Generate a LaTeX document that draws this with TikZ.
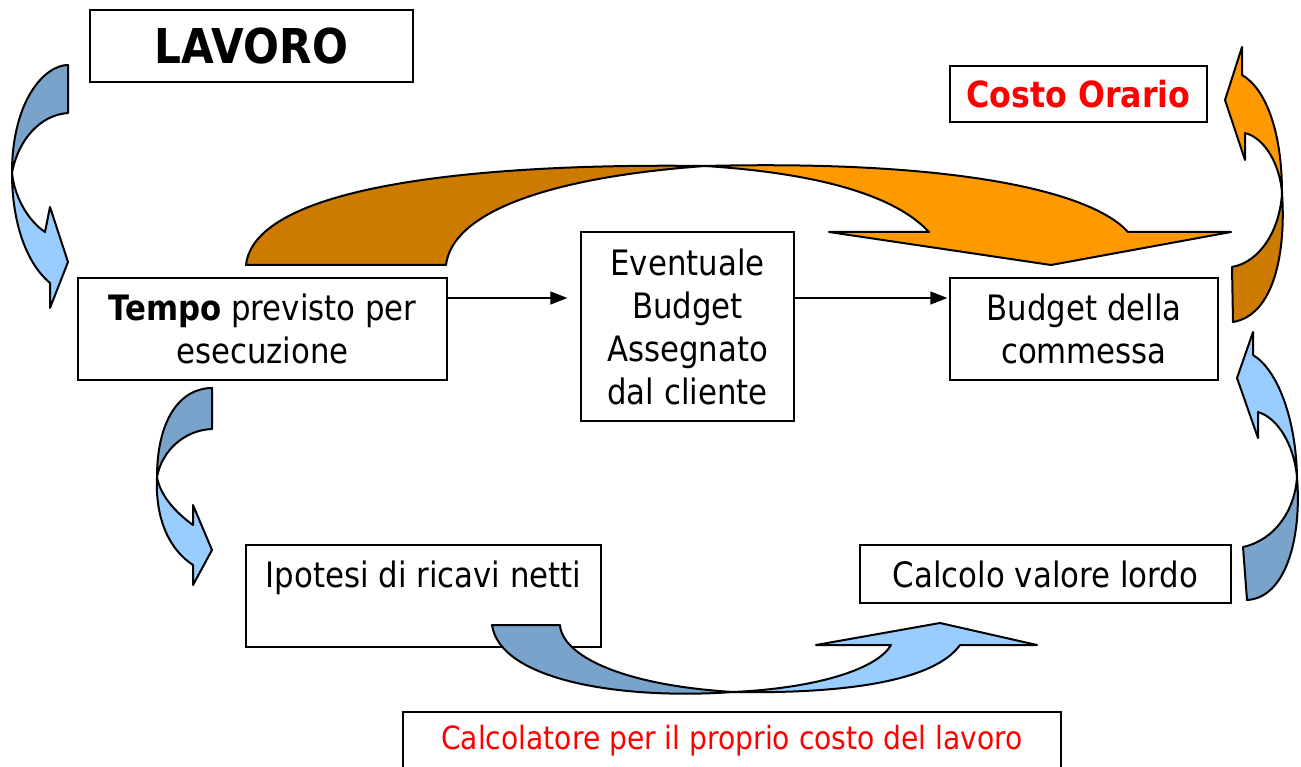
\documentclass[tikz,border=0pt]{standalone}
\usepackage{fontspec}
\setmainfont{DejaVu Sans}[FakeStretch=0.88]
\usetikzlibrary{arrows.meta}
\definecolor{bluedark}{RGB}{122,163,204}
\definecolor{bluelight}{RGB}{153,204,255}
\definecolor{orgdark}{RGB}{204,122,0}
\definecolor{orglight}{RGB}{255,153,0}
\tikzset{
  box/.style={draw=black, line width=1.3pt, fill=white, inner sep=0pt, align=center,
    font=\fontsize{35}{43}\selectfont},
  txt/.style={inner sep=0pt, align=center, font=\fontsize{35}{43}\selectfont},
  band/.style={draw=black, line width=2pt, line join=round},
  conn/.style={draw=black, line width=1.3pt, -{Triangle[length=17pt,width=13pt]}},
}
\begin{document}
\begin{tikzpicture}[x=1pt,y=-1pt]
\useasboundingbox (0,0) rectangle (1301,767);
\fill[white] (0,0) rectangle (1301,767);

% boxes
\node[box, minimum width=323pt, minimum height=72pt, font=\fontsize{48}{56}\selectfont\bfseries] (lavoro) at (251.5,46) {LAVORO};
\node[box, minimum width=257pt, minimum height=56pt, text=red, font=\fontsize{36}{43}\selectfont\bfseries] (costo) at (1078.5,94) {Costo Orario};
\node[box, minimum width=369pt, minimum height=102pt] (tempo) at (262.5,329) {\textbf{Tempo} previsto per\\esecuzione};
\node[box, minimum width=213pt, minimum height=189pt] (event) at (687.5,326.5) {Eventuale\\Budget\\Assegnato\\dal cliente};
\node[box, minimum width=268pt, minimum height=102pt] (budget) at (1084,329) {Budget della\\commessa};
\node[box, minimum width=355pt, minimum height=102pt] (ipotesi) at (423.5,596) {};
\node[txt] (ipotesitxt) at (423.5,578) {Ipotesi di ricavi netti};
\node[box, minimum width=371pt, minimum height=58pt] (calcolo) at (1045.5,574) {Calcolo valore lordo};
\node[box, minimum width=658pt, minimum height=58pt, text=red, font=\fontsize{32}{40}\selectfont] (calcolatore) at (732,741) {Calcolatore per il proprio costo del lavoro};

% connectors
\draw[conn, shorten >=13pt] ([yshift=31pt]tempo.east) -- ([yshift=28.5pt]event.west);
\draw[conn, shorten >=2pt] ([yshift=28.5pt]event.east) -- ([yshift=31pt]budget.west);

% left top curved arrow
\draw[band, fill=bluelight] (12,173) .. controls (12,220) and (25,262) .. (50,283) -- (50,308) -- (68,262) -- (50,207) -- (45,232) .. controls (30,222) and (15,200) .. (12,173) -- cycle;
\draw[band, fill=bluedark] (68,65) -- (68,113) .. controls (40,115) and (18,140) .. (12,173) .. controls (12,100) and (45,65) .. (68,65) -- cycle;

% left lower curved arrow
\draw[band, fill=bluelight] (157,477) .. controls (155,520) and (170,550) .. (193,565) -- (193,585) -- (212,550) -- (193,505) -- (193,525) .. controls (175,512) and (160,495) .. (157,477) -- cycle;
\draw[band, fill=bluedark] (212,388) -- (212,429) .. controls (185,430) and (162,450) .. (157,477) .. controls (157,420) and (180,388) .. (212,388) -- cycle;

% right upper orange arrow
\draw[band, fill=orgdark] (1282,193) .. controls (1286,250) and (1275,315) .. (1233,322) -- (1232,267) .. controls (1260,262) and (1280,230) .. (1282,193) -- cycle;
\draw[band, fill=orglight] (1242,47) -- (1242,75) .. controls (1265,88) and (1282,130) .. (1282,193) .. controls (1280,165) and (1265,138) .. (1245,133) -- (1245,160) -- (1225,100) -- cycle;

% right lower blue arrow
\draw[band, fill=bluedark] (1297,477) .. controls (1302,540) and (1285,598) .. (1247,600) -- (1243,547) .. controls (1275,540) and (1295,510) .. (1297,477) -- cycle;
\draw[band, fill=bluelight] (1253,332) -- (1253,355) .. controls (1278,370) and (1296,420) .. (1297,477) .. controls (1294,445) and (1278,418) .. (1258,412) -- (1258,438) -- (1237,378) -- cycle;

% top orange arrow
\draw[band, fill=orglight] (705,166) .. controls (950,160) and (1090,190) .. (1128,232) -- (1231,232) -- (1051,265) -- (829,232) -- (929,232) .. controls (890,190) and (800,172) .. (705,166) -- cycle;
\draw[band, fill=orgdark] (246,265) .. controls (255,185) and (480,163) .. (705,166) .. controls (540,178) and (452,215) .. (446,265) -- cycle;

% bottom arrow
\draw[band, fill=bluelight] (733,692) .. controls (820,688) and (878,668) .. (891,645) -- (816,645) -- (940,623) -- (1037,645) -- (960,645) .. controls (935,680) and (850,694) .. (733,692) -- cycle;
\draw[band, fill=bluedark] (492,625) -- (560,625) .. controls (562,655) and (620,685) .. (733,692) .. controls (620,700) and (500,680) .. (492,625) -- cycle;
\end{tikzpicture}
\end{document}
